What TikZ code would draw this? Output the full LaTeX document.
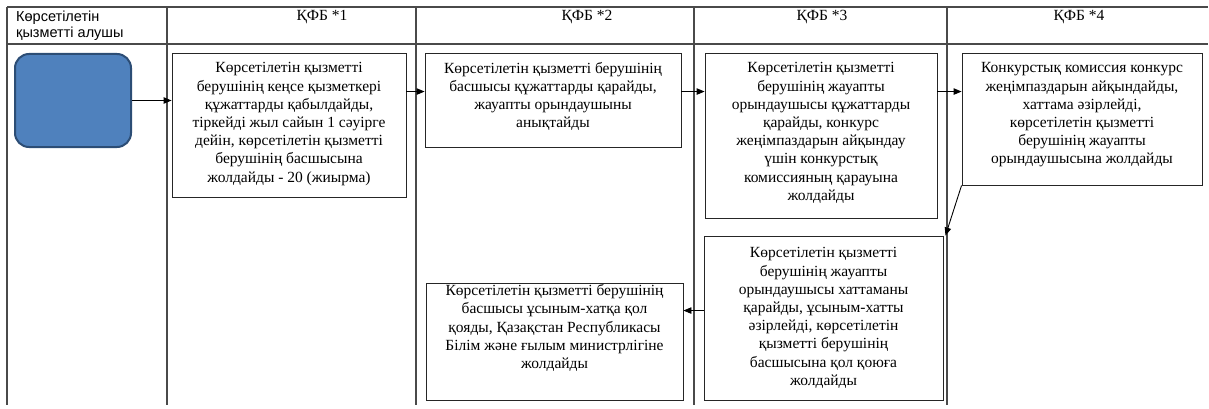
\documentclass[tikz,border=0pt]{standalone}
\usepackage{fontspec}
\setmainfont{Liberation Serif}
\newfontfamily\hdrsans{Liberation Sans}
\usetikzlibrary{arrows.meta}
\definecolor{gridc}{HTML}{4A4A4A}
\definecolor{bluefill}{HTML}{4F81BD}
\definecolor{blueedge}{HTML}{2C4D75}
\tikzset{
  grid/.style={draw=gridc, line width=1.2pt},
  box/.style={draw=black!85, line width=0.9pt, rectangle, inner sep=0pt},
  txt/.style={align=center, inner sep=0pt, font=\fontsize{15.5}{18.2}\selectfont},
  hdr/.style={inner sep=0pt, font=\fontsize{15.5}{17}\selectfont},
  conn/.style={draw=black, line width=0.9pt, -{Triangle[length=8pt,width=6.5pt]}},
}
\begin{document}
\begin{tikzpicture}[x=1pt,y=1pt]
\useasboundingbox (0,0) rectangle (1209,-409);
% table grid
\draw[grid] (7,-7) -- (1208,-7);
\draw[grid] (7,-44) -- (1208,-44);
\foreach \xx in {7,167,416,694,947} {\draw[grid] (\xx,-7) -- (\xx,-405);}
% headers
\node[hdr, anchor=north west, align=left, font=\hdrsans\fontsize{14.5}{16.5}\selectfont] (h0) at (16,-10.5) {Көрсетілетін\\қызметті алушы};
\node[hdr, anchor=north] (h1) at (322,-10) {ҚФБ *1};
\node[hdr, anchor=north] (h2) at (587,-10) {ҚФБ *2};
\node[hdr, anchor=north] (h3) at (822,-10) {ҚФБ *3};
\node[hdr, anchor=north] (h4) at (1079,-10) {ҚФБ *4};
% start shape
\node[rectangle, rounded corners=14pt, fill=bluefill, draw=blueedge, line width=2pt,
      minimum width=116pt, minimum height=93pt, inner sep=0pt] (start) at (73,-100.5) {};
% boxes
\node[box, minimum width=234pt, minimum height=144pt] (b1) at (289,-125) {};
\node[txt] (t1) at (289,-124) {Көрсетілетін қызметті\\берушінің кеңсе қызметкері\\құжаттарды қабылдайды,\\тіркейді жыл сайын 1 сәуірге\\дейін, көрсетілетін қызметті\\берушінің басшысына\\жолдайды - 20 (жиырма)};
\node[box, minimum width=256pt, minimum height=94pt] (b2) at (553,-100) {};
\node[txt] (t2) at (553,-96.5) {Көрсетілетін қызметті берушінің\\басшысы құжаттарды қарайды,\\жауапты орындаушыны\\анықтайды};
\node[box, minimum width=232pt, minimum height=165pt] (b3) at (821,-135.5) {};
\node[txt] (t3) at (821,-133) {Көрсетілетін қызметті\\берушінің жауапты\\орындаушысы құжаттарды\\қарайды, конкурс\\жеңімпаздарын айқындау\\үшін конкурстық\\комиссияның қарауына\\жолдайды};
\node[box, minimum width=240pt, minimum height=132pt] (b4) at (1082,-119) {};
\node[txt] (t4) at (1082,-115) {Конкурстық комиссия конкурс\\жеңімпаздарын айқындайды,\\хаттама әзірлейді,\\көрсетілетін қызметті\\берушінің жауапты\\орындаушысына жолдайды};
\node[box, minimum width=239pt, minimum height=164pt] (b5) at (823.5,-318) {};
\node[txt] (t5) at (823.5,-318) {Көрсетілетін қызметті\\берушінің жауапты\\орындаушысы хаттаманы\\қарайды, ұсыным-хатты\\әзірлейді, көрсетілетін\\қызметті берушінің\\басшысына қол қоюға\\жолдайды};
\node[box, minimum width=257pt, minimum height=117pt] (b6) at (554.5,-341.5) {};
\node[txt] (t6) at (554.5,-328) {Көрсетілетін қызметті берушінің\\басшысы ұсыным-хатқа қол\\қояды, Қазақстан Республикасы\\Білім және ғылым министрлігіне\\жолдайды};
% connectors
\draw[conn] (start.east) -- (b1.west |- start.east);
\coordinate (c12) at ([yshift=-39pt]b1.north east);
\draw[conn] (c12) -- (b2.west |- c12);
\coordinate (c23) at ([yshift=-39pt]b2.north east);
\draw[conn] (c23) -- (b3.west |- c23);
\coordinate (c34) at ([yshift=-39pt]b3.north east);
\draw[conn] (c34) -- (b4.west |- c34);
\draw[conn] (b4.south west) -- ([xshift=2pt]b5.north east);
\coordinate (c56) at ([yshift=-28pt]b6.north east);
\draw[conn] (b5.west |- c56) -- (c56);
\end{tikzpicture}
\end{document}
